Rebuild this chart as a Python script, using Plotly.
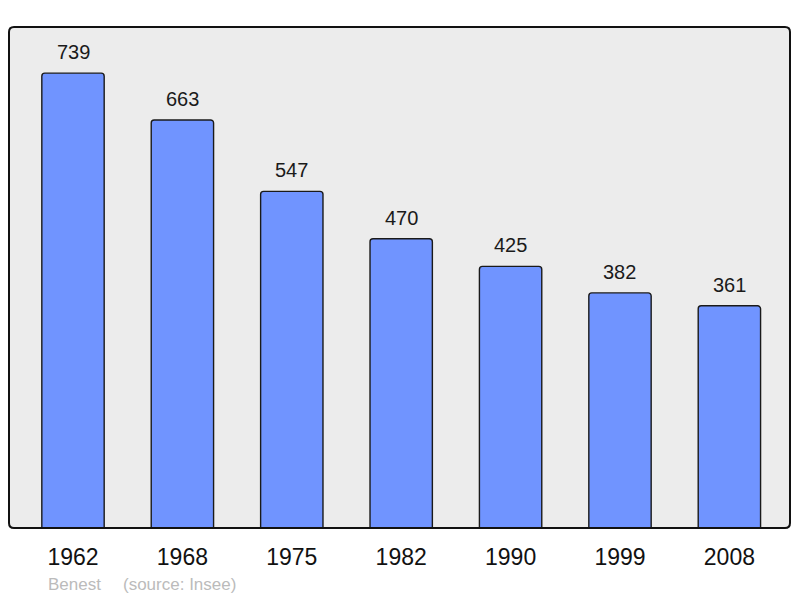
import plotly.graph_objects as go

years = ["1962", "1968", "1975", "1982", "1990", "1999", "2008"]
population = [739, 663, 547, 470, 425, 382, 361]

# the page is drawn with an 8px body margin, so size the figure to fit
W, H = 784, 590
L, R, T, B = 1, 2, 19, 70

fig = go.Figure()
fig.add_trace(go.Bar(
    x=list(range(len(years))), y=population,
    width=0.57,
    marker=dict(color="#7094ff", line=dict(color="#1a1a1a", width=1.4), cornerradius=3),
    hovertext=years,
    hoverinfo="text+y",
))

# value labels above the bars
for i, val in enumerate(population):
    fig.add_annotation(x=i, y=val, text=str(val), showarrow=False,
                       yanchor="bottom", yshift=8,
                       font=dict(size=20, color="#1a1a1a"))

# rounded frame around the plot area
pw, ph = W - L - R, H - T - B
rx, ry = 5 / pw, 5 / ph
frame = (f"M {rx},0 L {1-rx},0 Q 1,0 1,{ry} L 1,{1-ry} Q 1,1 {1-rx},1 "
         f"L {rx},1 Q 0,1 0,{1-ry} L 0,{ry} Q 0,0 {rx},0 Z")
fig.add_shape(type="path", path=frame, xref="paper", yref="paper",
              line=dict(color="#111111", width=2), layer="above")

foot_y = -(576 - (H - B)) / ph
fig.add_annotation(text="Benest", x=(38 - L) / pw, y=foot_y,
                   xref="paper", yref="paper", showarrow=False,
                   xanchor="left", yanchor="middle",
                   font=dict(size=17, color="#bbbbbb"))
fig.add_annotation(text="(source: Insee)", x=(113 - L) / pw, y=foot_y,
                   xref="paper", yref="paper", showarrow=False,
                   xanchor="left", yanchor="middle",
                   font=dict(size=17, color="#bbbbbb"))

fig.update_layout(
    width=W, height=H,
    margin=dict(l=L, r=R, t=T, b=B),
    paper_bgcolor="white",
    plot_bgcolor="#ececec",
    showlegend=False,
    font=dict(family="Liberation Sans, Arial, sans-serif"),
    xaxis=dict(range=[-0.585, 6.554], showgrid=False, zeroline=False,
               tickmode="array", tickvals=list(range(len(years))), ticktext=years,
               ticks="", ticklabelstandoff=13,
               tickfont=dict(size=23, color="#111111")),
    yaxis=dict(range=[0, 814], showgrid=False, zeroline=False,
               showticklabels=False, ticks=""),
)

fig.write_html("out.html")
